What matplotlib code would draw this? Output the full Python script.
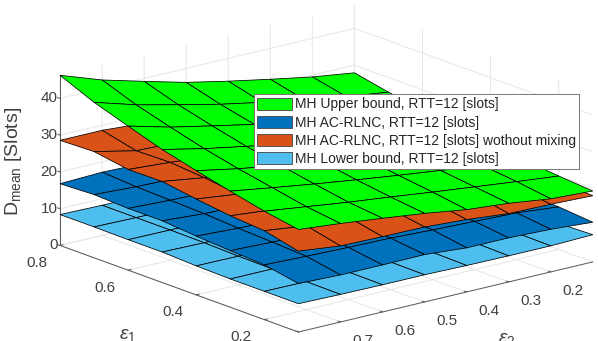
import numpy as np
import matplotlib
matplotlib.use('Agg')
import matplotlib.pyplot as plt
from matplotlib.patches import Patch

plt.rcParams['font.family'] = ['Liberation Sans', 'DejaVu Sans']
plt.rcParams['mathtext.fontset'] = 'custom'
plt.rcParams['mathtext.rm'] = 'Liberation Sans'
plt.rcParams['mathtext.it'] = 'Liberation Sans:italic'

# loss rates, rows of the tables follow eps1, columns follow eps2
eps1 = [0.8, 0.7, 0.6, 0.5, 0.4, 0.3, 0.2, 0.1]
eps2 = [0.8, 0.7, 0.6, 0.5, 0.4, 0.3, 0.2, 0.1]

upper = [
    [46.3, 42.3, 39.2, 36.2, 33.8, 31.6, 29.5, 27.9],
    [42.3, 38.9, 36.2, 33.6, 31.4, 29.4, 27.5, 26.0],
    [39.2, 36.2, 33.8, 31.5, 29.6, 27.7, 26.0, 24.5],
    [36.2, 33.7, 31.6, 29.6, 27.8, 26.1, 24.5, 23.1],
    [33.8, 31.6, 29.8, 28.0, 26.3, 24.8, 23.3, 22.0],
    [31.6, 29.8, 28.1, 26.5, 25.0, 23.6, 22.2, 20.9],
    [29.5, 28.0, 26.5, 25.2, 23.8, 22.5, 21.2, 20.0],
    [27.9, 26.8, 25.5, 24.1, 22.4, 21.4, 19.9, 19.3],
]
no_mixing = [
    [28.6, 28.6, 27.8, 27.5, 26.1, 24.9, 24.2, 22.0],
    [28.9, 26.4, 26.0, 25.6, 24.9, 23.9, 23.0, 21.0],
    [27.4, 26.6, 25.6, 25.0, 24.2, 23.3, 22.4, 20.6],
    [27.5, 25.8, 25.2, 24.6, 23.8, 22.8, 21.9, 20.5],
    [26.1, 24.7, 24.2, 23.6, 22.9, 22.0, 21.2, 19.8],
    [24.9, 23.8, 23.2, 22.8, 22.0, 21.2, 20.4, 19.0],
    [24.2, 22.8, 22.4, 21.9, 21.2, 20.4, 19.6, 18.6],
    [22.0, 20.7, 20.5, 20.4, 19.7, 18.6, 18.4, 18.0],
]
ac_rlnc = [
    [16.8, 17.2, 16.9, 16.8, 16.0, 15.4, 14.9, 13.2],
    [17.2, 16.6, 16.3, 16.0, 15.4, 15.0, 14.5, 12.9],
    [16.8, 16.3, 16.0, 15.7, 15.2, 14.7, 14.2, 12.8],
    [16.8, 16.0, 15.7, 15.4, 14.9, 14.4, 14.0, 12.9],
    [16.0, 15.4, 15.2, 14.9, 14.4, 14.0, 13.5, 12.3],
    [15.4, 15.0, 14.7, 14.4, 14.0, 13.5, 13.1, 12.0],
    [14.9, 14.5, 14.2, 14.0, 13.5, 13.1, 12.7, 11.6],
    [13.2, 12.8, 12.8, 12.9, 12.0, 12.0, 11.6, 10.8],
]
lower = [
    [8.4, 8.2, 8.2, 8.2, 8.0, 7.8, 7.7, 7.7],
    [8.4, 8.2, 8.1, 8.1, 7.9, 7.8, 7.7, 7.6],
    [8.3, 8.2, 8.1, 8.0, 7.9, 7.8, 7.6, 7.5],
    [8.3, 8.1, 8.0, 7.9, 7.8, 7.7, 7.5, 7.5],
    [7.9, 7.8, 7.8, 7.7, 7.6, 7.5, 7.4, 7.2],
    [7.7, 7.7, 7.6, 7.5, 7.5, 7.4, 7.3, 7.2],
    [7.7, 7.6, 7.5, 7.5, 7.4, 7.3, 7.2, 7.1],
    [7.7, 7.5, 7.4, 7.4, 7.2, 7.1, 7.1, 7.4],
]

legend_labels = ['MH Upper bound, RTT=12 [slots]',
                 'MH AC-RLNC, RTT=12 [slots]',
                 'MH AC-RLNC, RTT=12 [slots] wothout mixing',
                 'MH Lower bound, RTT=12 [slots]']
legend_colors = ['#00FF00', '#0072BD', '#D95319', '#4DBEEE']

W, H = 598, 341
fig = plt.figure(figsize=(W / 100, H / 100), dpi=100)
S = 548
ax = fig.add_axes([45 / W, -109 / H, S / W, S / H], projection='3d', computed_zorder=False)
ax.set_proj_type('ortho')
ax.view_init(elev=17.1, azim=141)
ax.set_box_aspect((1, 1, 0.47))

E2, E1 = np.meshgrid(eps2, eps1)

# stacked from the bottom up, they never cross so this order is enough
draw_order = [(lower, '#4DBEEE'), (ac_rlnc, '#0072BD'), (no_mixing, '#D95319'), (upper, '#00FF00')]
for i, (table, color) in enumerate(draw_order):
    ax.plot_surface(E1, E2, np.array(table), rstride=1, cstride=1, color=color,
                    edgecolor='black', linewidth=0.55, shade=False, zorder=i + 1,
                    antialiased=True)

ax.set_xlim(0.1, 0.8)
ax.set_ylim(0.1, 0.8)
ax.set_zlim(0, 46.3)
ax.set_xticks([0.2, 0.4, 0.6, 0.8])
ax.set_yticks([0.2, 0.3, 0.4, 0.5, 0.6, 0.7, 0.8])
ax.set_zticks([0, 10, 20, 30, 40])
ax.set_xticklabels(['0.2', '0.4', '0.6', '0.8'])
ax.set_yticklabels(['0.2', '0.3', '0.4', '0.5', '0.6', '0.7', '0.8'])

for axis in (ax.xaxis, ax.yaxis, ax.zaxis):
    axis.set_pane_color((1, 1, 1, 0))
    axis.pane.set_edgecolor('none')
    axis.line.set_color('#555555')
    axis.line.set_linewidth(0.7)
    axis._axinfo['grid'].update(color='#e6e6e6', linewidth=0.7)
    axis._axinfo['tick'].update(inward_factor=0.0, outward_factor=0.12, linewidth={True: 0.7, False: 0.7})
    axis.set_tick_params(labelsize=11, labelcolor='#404040', color='#555555', pad=1)

# z axis goes on the left corner like the original
ax.zaxis._axinfo['juggled'] = (1, 2, 0)
ax.zaxis.set_tick_params(pad=-7)
ax.yaxis.set_tick_params(pad=2)

for lab in ax.get_xticklabels():
    lab.set_ha('right')
for lab in ax.get_yticklabels():
    lab.set_ha('left')
for lab in ax.get_zticklabels():
    lab.set_ha('right')
    lab.set_va('center')

fig.text(119 / W, 1 - 335 / H, r'$\epsilon_{1}$', fontsize=14, color='#404040',
         ha='left', va='center')
fig.text(498 / W, 1 - 339 / H, r'$\epsilon_{2}$', fontsize=14, color='#404040',
         ha='left', va='center')
fig.text(14 / W, 1 - 161 / H, r'D$_{\mathrm{mean}}$ [Slots]', rotation=90, fontsize=14,
         color='#404040', ha='center', va='center')

handles = [Patch(facecolor=c, edgecolor='#555555', linewidth=0.7) for c in legend_colors]
leg = fig.legend(handles, legend_labels, loc='upper left', bbox_to_anchor=(254 / W, 1 - 94 / H),
                 fontsize=10, frameon=True, fancybox=False, framealpha=1, edgecolor='#777777',
                 handlelength=2.45, handleheight=1.0, handletextpad=0.25, labelspacing=0.3,
                 borderpad=0.25, borderaxespad=0, labelcolor='#262626')
leg.get_frame().set_linewidth(0.7)

fig.savefig('out.png', dpi=100)
